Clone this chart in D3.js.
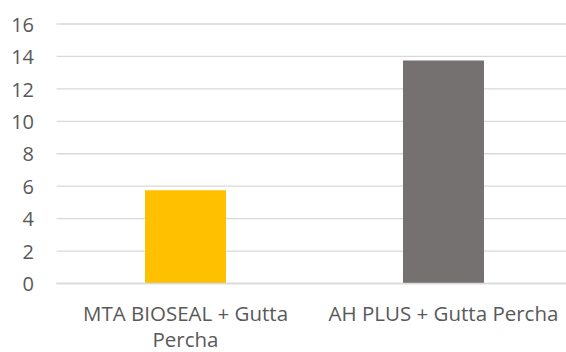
<!DOCTYPE html>
<html>
<head>
<meta charset="utf-8">
<script src="https://cdn.jsdelivr.net/npm/d3@7"></script>
<style>
  html, body { margin: 0; padding: 0; background: #fff; }
  svg { display: block; }
</style>
</head>
<body>
<svg id="chart" width="566" height="352"></svg>
<script>
const categories = ["MTA BIOSEAL + Gutta Percha", "AH PLUS + Gutta Percha"];
const values = [5.75, 13.75];
const barColors = ["#FFC000", "#767171"];
const yTicks = [0, 2, 4, 6, 8, 10, 12, 14, 16];

const svg = d3.select("#chart");
const plot = { left: 56.5, right: 572.5, top: 24, bottom: 283.5 };
const font = "'Open Sans', sans-serif";
const textColor = "#595959";

const x = d3.scaleBand().domain(categories).range([plot.left, plot.right]).paddingInner(0.686).paddingOuter(0.343);
const y = d3.scaleLinear().domain([0, 16]).range([plot.bottom, plot.top]);

// gridlines
svg.append("g").selectAll("line").data(yTicks).join("line")
  .attr("x1", plot.left).attr("x2", plot.right)
  .attr("y1", d => y(d)).attr("y2", d => y(d))
  .attr("stroke", "#d9d9d9").attr("stroke-width", 1.3);

// y tick labels
const yAxis = d3.axisLeft(y).tickValues(yTicks).tickSize(0).tickPadding(0);
const gy = svg.append("g").attr("transform", `translate(34,0)`).call(yAxis);
gy.select(".domain").remove();
gy.selectAll("text").attr("font-family", font).attr("font-size", 20).attr("fill", textColor).attr("dy", "0.36em");

// bars
svg.append("g").selectAll("rect").data(values).join("rect")
  .attr("x", (d, i) => x(categories[i]))
  .attr("width", x.bandwidth())
  .attr("y", d => y(d))
  .attr("height", d => y(0) - y(d))
  .attr("fill", (d, i) => barColors[i]);

// axis line at 0
svg.append("line").attr("x1", plot.left).attr("x2", plot.right)
  .attr("y1", y(0)).attr("y2", y(0)).attr("stroke", "#d9d9d9").attr("stroke-width", 1.3);

// category labels
const xAxis = d3.axisBottom(x).tickSize(0).tickPadding(0);
const gx = svg.append("g").attr("transform", `translate(0,${plot.bottom})`).call(xAxis);
gx.select(".domain").remove();
const baseY = 37;
gx.selectAll("text").attr("font-family", font).attr("font-size", 20.5).attr("fill", textColor)
  .attr("y", baseY).attr("dy", 0)
  .each(function(d) {
    const t = d3.select(this);
    const words = d.split(" ");
    t.text(null);
    let line = [];
    let lineNo = 0;
    let tspan = t.append("tspan").attr("x", 0).attr("y", baseY);
    const maxW = 245;
    for (const w of words) {
      line.push(w);
      tspan.text(line.join(" "));
      if (tspan.node().getComputedTextLength() > maxW && line.length > 1) {
        line.pop();
        tspan.text(line.join(" "));
        line = [w];
        lineNo++;
        tspan = t.append("tspan").attr("x", 0).attr("y", baseY + lineNo * 26.5).text(w);
      }
    }
  });
</script>
</body>
</html>
